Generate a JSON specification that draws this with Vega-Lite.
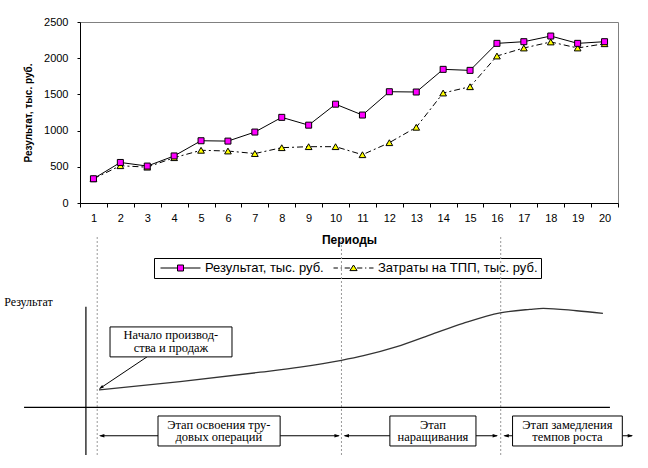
{
  "$schema": "https://vega.github.io/schema/vega-lite/v6.json",
  "padding": {"left": 4, "top": 15, "right": 0, "bottom": 0},
  "background": "white",
  "spacing": 34,
  "bounds": "flush",
  "resolve": {"scale": {"shape": "independent", "fill": "independent", "stroke": "independent"}},
  "config": {
    "view": {"stroke": null},
    "axis": {"labelFont": "Liberation Sans", "titleFont": "Liberation Sans"},
    "legend": {
      "labelFont": "Liberation Sans",
      "title": null,
      "orient": "none",
      "legendX": 74,
      "legendY": 236,
      "direction": "horizontal",
      "strokeColor": "black",
      "padding": 3,
      "clipHeight": 14,
      "symbolSize": 1600,
      "symbolOffset": 3,
      "symbolStrokeWidth": 1,
      "labelFontSize": 13,
      "labelColor": "black",
      "labelOffset": 4,
      "columnPadding": 6
    }
  },
  "datasets": {
    "periods": [
      {"period": 1, "series": "Результат, тыс. руб.", "value": 335},
      {"period": 2, "series": "Результат, тыс. руб.", "value": 560},
      {"period": 3, "series": "Результат, тыс. руб.", "value": 510},
      {"period": 4, "series": "Результат, тыс. руб.", "value": 650},
      {"period": 5, "series": "Результат, тыс. руб.", "value": 860},
      {"period": 6, "series": "Результат, тыс. руб.", "value": 855},
      {"period": 7, "series": "Результат, тыс. руб.", "value": 980},
      {"period": 8, "series": "Результат, тыс. руб.", "value": 1183},
      {"period": 9, "series": "Результат, тыс. руб.", "value": 1075},
      {"period": 10, "series": "Результат, тыс. руб.", "value": 1365},
      {"period": 11, "series": "Результат, тыс. руб.", "value": 1215},
      {"period": 12, "series": "Результат, тыс. руб.", "value": 1537},
      {"period": 13, "series": "Результат, тыс. руб.", "value": 1533},
      {"period": 14, "series": "Результат, тыс. руб.", "value": 1846},
      {"period": 15, "series": "Результат, тыс. руб.", "value": 1832},
      {"period": 16, "series": "Результат, тыс. руб.", "value": 2205},
      {"period": 17, "series": "Результат, тыс. руб.", "value": 2228},
      {"period": 18, "series": "Результат, тыс. руб.", "value": 2306},
      {"period": 19, "series": "Результат, тыс. руб.", "value": 2205},
      {"period": 20, "series": "Результат, тыс. руб.", "value": 2228},
      {"period": 1, "series": "Затраты на ТПП, тыс. руб.", "value": 335},
      {"period": 2, "series": "Затраты на ТПП, тыс. руб.", "value": 515},
      {"period": 3, "series": "Затраты на ТПП, тыс. руб.", "value": 495},
      {"period": 4, "series": "Затраты на ТПП, тыс. руб.", "value": 626},
      {"period": 5, "series": "Затраты на ТПП, тыс. руб.", "value": 728},
      {"period": 6, "series": "Затраты на ТПП, тыс. руб.", "value": 718},
      {"period": 7, "series": "Затраты на ТПП, тыс. руб.", "value": 683},
      {"period": 8, "series": "Затраты на ТПП, тыс. руб.", "value": 764},
      {"period": 9, "series": "Затраты на ТПП, тыс. руб.", "value": 778},
      {"period": 10, "series": "Затраты на ТПП, тыс. руб.", "value": 778},
      {"period": 11, "series": "Затраты на ТПП, тыс. руб.", "value": 667},
      {"period": 12, "series": "Затраты на ТПП, тыс. руб.", "value": 833},
      {"period": 13, "series": "Затраты на ТПП, тыс. руб.", "value": 1046},
      {"period": 14, "series": "Затраты на ТПП, тыс. руб.", "value": 1519},
      {"period": 15, "series": "Затраты на ТПП, тыс. руб.", "value": 1606},
      {"period": 16, "series": "Затраты на ТПП, тыс. руб.", "value": 2030},
      {"period": 17, "series": "Затраты на ТПП, тыс. руб.", "value": 2141},
      {"period": 18, "series": "Затраты на ТПП, тыс. руб.", "value": 2224},
      {"period": 19, "series": "Затраты на ТПП, тыс. руб.", "value": 2141},
      {"period": 20, "series": "Затраты на ТПП, тыс. руб.", "value": 2200}
    ],
    "axes": [
      {"x": 1.1, "y": 59, "x2": 1.1, "y2": -28},
      {"x": -10.4, "y": 0, "x2": 98.5, "y2": 0}
    ],
    "guides": [
      {"x": 3.2, "y": 100, "y2": -28},
      {"x": 48.6, "y": 100, "y2": -28},
      {"x": 78.2, "y": 100, "y2": -28}
    ],
    "curve": [
      {"t": 3.53, "r": 10.2},
      {"t": 18.6, "r": 15.1},
      {"t": 33.5, "r": 20.6},
      {"t": 40.9, "r": 23.6},
      {"t": 48.6, "r": 27.6},
      {"t": 52.7, "r": 30.3},
      {"t": 58.9, "r": 35.6},
      {"t": 65.1, "r": 42.5},
      {"t": 71.2, "r": 49.3},
      {"t": 78.1, "r": 55.5},
      {"t": 83.6, "r": 57.5},
      {"t": 86.1, "r": 58.1},
      {"t": 92.3, "r": 56.7},
      {"t": 97.2, "r": 55.2}
    ],
    "arrows": [
      {"x": 12.45, "y": 29.6, "x2": 3.8, "y2": 11.3},
      {"x": 3.8, "y": -16.7, "x2": 48.1, "y2": -16.7},
      {"x": 49.2, "y": -16.7, "x2": 77.5, "y2": -16.7},
      {"x": 78.9, "y": -16.7, "x2": 102.6, "y2": -16.7}
    ],
    "heads": [
      {"x": 3.53, "y": 10.75, "dir": "callout"},
      {"x": 3.53, "y": -16.7, "dir": "left"},
      {"x": 48.3, "y": -16.7, "dir": "right"},
      {"x": 49.0, "y": -16.7, "dir": "left"},
      {"x": 77.7, "y": -16.7, "dir": "right"},
      {"x": 78.7, "y": -16.7, "dir": "left"},
      {"x": 102.8, "y": -16.7, "dir": "right"}
    ],
    "boxes": [
      {"x": 5.58, "x2": 28.25, "y": 47.2, "y2": 29.6},
      {"x": 14.5, "x2": 37.2, "y": -5.1, "y2": -22.7},
      {"x": 57.6, "x2": 73.6, "y": -5.1, "y2": -22.7},
      {"x": 80.4, "x2": 100.8, "y": -5.1, "y2": -22.7}
    ],
    "notes": [
      {"x": 16.9, "y": 42.5, "text": "Начало производ-"},
      {"x": 16.9, "y": 34.8, "text": "ства и продаж"},
      {"x": 25.8, "y": -10.4, "text": "Этап освоения тру-"},
      {"x": 25.8, "y": -17.7, "text": "довых операций"},
      {"x": 65.6, "y": -10.4, "text": "Этап"},
      {"x": 65.6, "y": -17.7, "text": "наращивания"},
      {"x": 90.6, "y": -10.4, "text": "Этап замедления"},
      {"x": 90.6, "y": -17.7, "text": "темпов роста"}
    ],
    "ylabel": [
      {"x": -14.1, "y": 61.8, "text": "Результат"}
    ]
  },
  "vconcat": [
    {
      "width": 538,
      "height": 181,
      "view": {"stroke": "#808080", "strokeWidth": 1},
      "data": {"name": "periods"},
      "encoding": {
        "x": {
          "field": "period",
          "type": "ordinal",
          "scale": {"type": "band", "paddingInner": 0, "paddingOuter": 0},
          "axis": {
            "title": "Периоды",
            "labelAngle": 0,
            "tickBand": "extent",
            "tickSize": 4,
            "labelPadding": 5,
            "labelFontSize": 11,
            "labelColor": "black",
            "domainColor": "black",
            "tickColor": "black",
            "titleFontSize": 12,
            "titleFontWeight": "bold",
            "titleColor": "black",
            "titlePadding": 11,
            "grid": false
          }
        },
        "y": {
          "field": "value",
          "type": "quantitative",
          "scale": {"domain": [0, 2500], "nice": false},
          "axis": {
            "title": "Результат, тыс. руб.",
            "values": [0, 500, 1000, 1500, 2000, 2500],
            "format": "d",
            "tickSize": 3,
            "labelPadding": 9,
            "labelFontSize": 11,
            "labelColor": "black",
            "domainColor": "black",
            "tickColor": "black",
            "titleFontSize": 10,
            "titleFontWeight": "bold",
            "titleColor": "black",
            "titlePadding": 10,
            "grid": false
          }
        }
      },
      "layer": [
        {
          "transform": [{"filter": "datum.series === 'Затраты на ТПП, тыс. руб.'"}],
          "mark": {"type": "line", "color": "black", "strokeWidth": 1, "strokeDash": [6, 3, 2, 3]}
        },
        {
          "transform": [{"filter": "datum.series === 'Результат, тыс. руб.'"}],
          "mark": {"type": "line", "color": "black", "strokeWidth": 1}
        },
        {
          "transform": [{"filter": "datum.series === 'Затраты на ТПП, тыс. руб.'"}],
          "mark": {"type": "point", "shape": "triangle-up", "size": 45, "filled": true, "fill": "#FFFF00", "stroke": "black", "strokeWidth": 1, "opacity": 1}
        },
        {
          "transform": [{"filter": "datum.series === 'Результат, тыс. руб.'"}],
          "mark": {"type": "point", "shape": "square", "size": 36, "filled": true, "fill": "#FF00FF", "stroke": "black", "strokeWidth": 1, "opacity": 1}
        },
        {
          "transform": [{"filter": "false"}],
          "mark": {"type": "point", "filled": true, "strokeWidth": 1, "opacity": 1},
          "encoding": {
            "shape": {
              "field": "series",
              "type": "nominal",
              "scale": {
                "domain": ["Результат, тыс. руб.", "Затраты на ТПП, тыс. руб."],
                "range": [
                  "M-1,0H-0.15M0.15,0H1M-0.15,-0.15H0.15V0.15H-0.15Z",
                  "M-1,0H-0.78M-0.64,0H-0.58M-0.44,0H-0.18M0.18,0H0.44M0.58,0H0.64M0.78,0H1M-0.18,0.13L0,-0.15L0.18,0.13Z"
                ]
              }
            },
            "fill": {
              "field": "series",
              "type": "nominal",
              "scale": {
                "domain": ["Результат, тыс. руб.", "Затраты на ТПП, тыс. руб."],
                "range": ["#FF00FF", "#FFFF00"]
              }
            },
            "stroke": {
              "field": "series",
              "type": "nominal",
              "scale": {
                "domain": ["Результат, тыс. руб.", "Затраты на ТПП, тыс. руб."],
                "range": ["black", "black"]
              }
            }
          }
        }
      ]
    },
    {
      "width": 538,
      "height": 218,
      "view": {"stroke": null},
      "encoding": {
        "x": {"type": "quantitative", "scale": {"domain": [0, 100], "nice": false, "zero": false}, "axis": null},
        "y": {"type": "quantitative", "scale": {"domain": [-28, 100], "nice": false, "zero": false}, "axis": null}
      },
      "layer": [
        {
          "data": {"name": "guides"},
          "mark": {"type": "rule", "color": "#999999", "strokeWidth": 1, "strokeDash": [2, 2]},
          "encoding": {"x": {"field": "x"}, "y": {"field": "y"}, "y2": {"field": "y2"}}
        },
        {
          "data": {"name": "axes"},
          "mark": {"type": "rule", "color": "black", "strokeWidth": 1.2},
          "encoding": {"x": {"field": "x"}, "y": {"field": "y"}, "x2": {"field": "x2"}, "y2": {"field": "y2"}}
        },
        {
          "data": {"name": "curve"},
          "mark": {"type": "line", "color": "#333333", "strokeWidth": 1.3, "interpolate": "monotone"},
          "encoding": {"x": {"field": "t"}, "y": {"field": "r"}}
        },
        {
          "data": {"name": "arrows"},
          "mark": {"type": "rule", "color": "black", "strokeWidth": 1},
          "encoding": {"x": {"field": "x"}, "y": {"field": "y"}, "x2": {"field": "x2"}, "y2": {"field": "y2"}}
        },
        {
          "data": {"name": "heads"},
          "mark": {"type": "point", "filled": true, "color": "black", "size": 36, "opacity": 1},
          "encoding": {
            "x": {"field": "x"},
            "y": {"field": "y"},
            "shape": {
              "field": "dir",
              "type": "nominal",
              "scale": {
                "domain": ["callout", "left", "right"],
                "range": [
                  "M0,0L1.61,-0.47L1.05,-1.31Z",
                  "M0,0L1.8,-0.6L1.8,0.6Z",
                  "M0,0L-1.8,-0.6L-1.8,0.6Z"
                ]
              },
              "legend": null
            }
          }
        },
        {
          "data": {"name": "boxes"},
          "mark": {"type": "rect", "fill": "#9a9a9a", "xOffset": 2, "yOffset": 2},
          "encoding": {"x": {"field": "x"}, "x2": {"field": "x2"}, "y": {"field": "y"}, "y2": {"field": "y2"}}
        },
        {
          "data": {"name": "boxes"},
          "mark": {"type": "rect", "fill": "white", "stroke": "black", "strokeWidth": 1},
          "encoding": {"x": {"field": "x"}, "x2": {"field": "x2"}, "y": {"field": "y"}, "y2": {"field": "y2"}}
        },
        {
          "data": {"name": "notes"},
          "mark": {"type": "text", "font": "Liberation Serif, Times New Roman, serif", "fontSize": 12.5, "align": "center", "baseline": "middle", "color": "black"},
          "encoding": {"x": {"field": "x"}, "y": {"field": "y"}, "text": {"field": "text"}}
        },
        {
          "data": {"name": "ylabel"},
          "mark": {"type": "text", "font": "Liberation Serif, Times New Roman, serif", "fontSize": 12, "align": "left", "baseline": "middle", "color": "black"},
          "encoding": {"x": {"field": "x"}, "y": {"field": "y"}, "text": {"field": "text"}}
        }
      ]
    }
  ]
}
